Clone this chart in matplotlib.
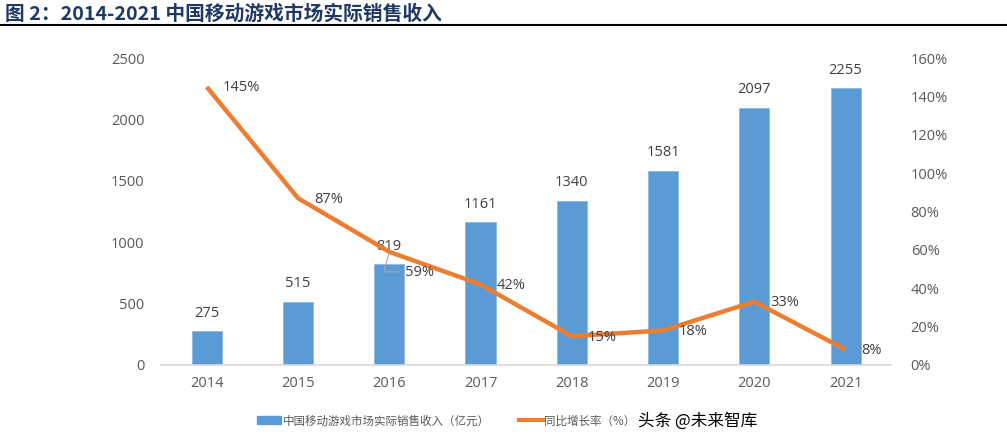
import matplotlib
matplotlib.use("Agg")
import matplotlib.pyplot as plt
from matplotlib.lines import Line2D
from matplotlib.patches import Patch

plt.rcParams['font.family'] = ['Noto Sans CJK SC', 'DejaVu Sans']

years = ["2014", "2015", "2016", "2017", "2018", "2019", "2020", "2021"]
revenue = [275, 515, 819, 1161, 1340, 1581, 2097, 2255]
growth = [145, 87, 59, 42, 15, 18, 33, 8]
left_ticks = [0, 500, 1000, 1500, 2000, 2500]
right_ticks = [0, 20, 40, 60, 80, 100, 120, 140, 160]

title = "图 2：2014-2021 中国移动游戏市场实际销售收入"
bar_name = "中国移动游戏市场实际销售收入（亿元）"
line_name = "同比增长率（%）"
watermark = "头条 @未来智库"

fig = plt.figure(figsize=(10.07, 4.44), dpi=100)
ax = fig.add_axes([0.160, 0.178, 0.725, 0.691])
ax2 = ax.twinx()

x = list(range(len(years)))
bar_c = "#5B9BD5"
line_c = "#ED7D31"
txt_c = "#404040"
tick_c = "#595959"
num_font = ['Open Sans', 'DejaVu Sans']

ax.bar(x, revenue, width=0.33, color=bar_c, edgecolor="#8DB8E3", linewidth=0.6, zorder=2)
ax.set_ylim(0, 2500)
ax.set_xlim(-0.5, len(years) - 0.5)
ax.set_yticks(left_ticks)
ax.set_yticklabels([str(v) for v in left_ticks], color=tick_c, fontsize=10.5, family=num_font)
ax.set_xticks(x)
ax.set_xticklabels(years, color=tick_c, fontsize=10.5, family=num_font)
ax.tick_params(axis='y', length=0, pad=12)
ax.tick_params(axis='x', length=0, pad=8)
for s in ["top", "left", "right"]:
    ax.spines[s].set_visible(False)
ax.spines["bottom"].set_color("#D9D9D9")
ax.spines["bottom"].set_linewidth(1.2)

for xi, v in zip(x, revenue):
    ax.annotate(str(v), (xi, v), xytext=(0, 18), textcoords="offset pixels",
                ha="center", va="center", color=txt_c, fontsize=10.5, family=num_font)

ax2.plot(x, growth, color=line_c, linewidth=3.2, zorder=3, solid_capstyle="butt")
ax2.set_ylim(0, 160)
ax2.set_yticks(right_ticks)
ax2.set_yticklabels([f"{v}%" for v in right_ticks], color=tick_c, fontsize=10.5, family=num_font)
ax2.tick_params(axis='y', length=0, pad=14)
for s in ["top", "left", "right", "bottom"]:
    ax2.spines[s].set_visible(False)

for xi, g in zip(x, growth):
    dy = -20 if g == 59 else 0
    ax2.annotate(f"{g}%", (xi, g), xytext=(16, dy - 1), textcoords="offset pixels",
                 ha="left", va="center", color=txt_c, fontsize=10.5, family=num_font)
# leader line for the displaced 59% label
i59 = growth.index(59)
ax2.annotate("", (i59, growth[i59]), xytext=(12, -20), textcoords="offset pixels",
             arrowprops=dict(arrowstyle="-", color="#A6A6A6", lw=0.8,
                             connectionstyle="angle,angleA=0,angleB=75,rad=0"))

# title and rule
fig.text(0.005, 0.968, title, ha="left", va="center", fontsize=14.2, fontweight="bold", color="#1F3864")
fig.add_artist(Line2D([0, 1], [0.944, 0.944], color="black", linewidth=1.5))

# legend
handles = [Patch(facecolor=bar_c, edgecolor=bar_c), Line2D([0], [0], color=line_c, linewidth=3)]
leg = fig.legend(handles, [bar_name, line_name], loc="center left", bbox_to_anchor=(0.255, 0.052),
                 ncol=2, frameon=False, fontsize=8.3, columnspacing=2.5, handlelength=2.1,
                 handletextpad=0.15, borderpad=0, borderaxespad=0)
for t in leg.get_texts():
    t.set_color(tick_c)

fig.text(0.634, 0.052, watermark, ha="left", va="center", fontsize=12, color="black")

fig.savefig("out.png", dpi=100)
